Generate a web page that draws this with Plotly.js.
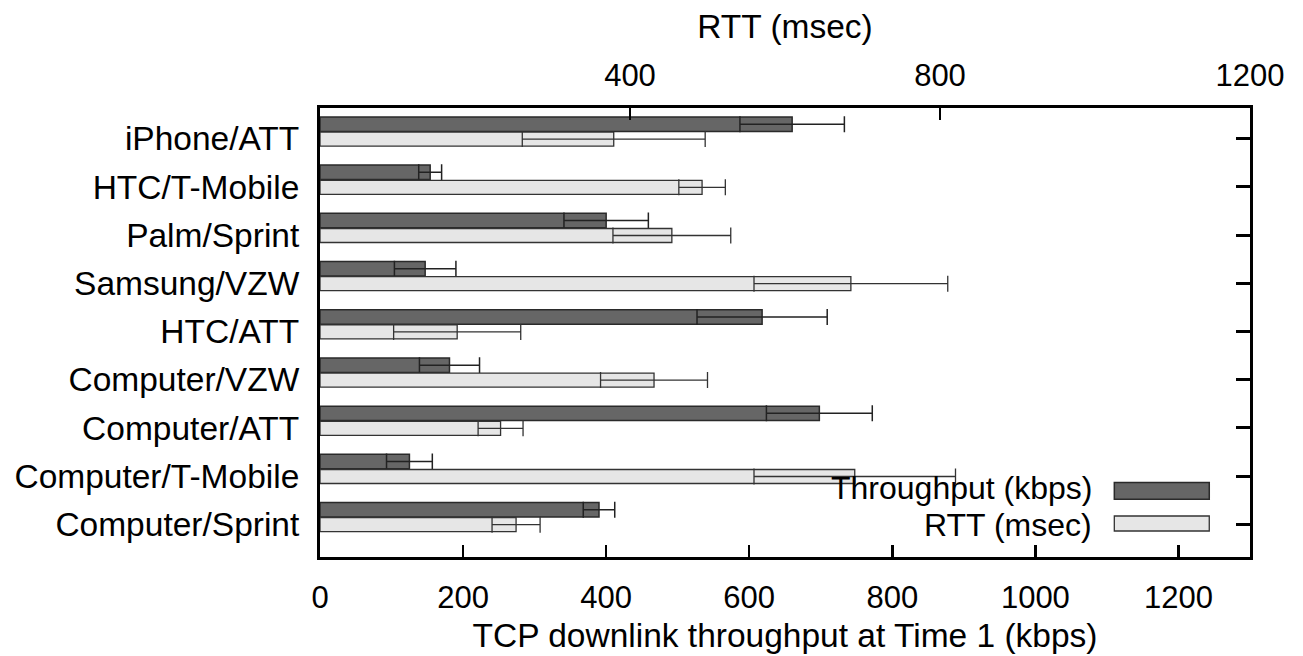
<!DOCTYPE html>
<html><head><meta charset="utf-8">
<script src="https://cdn.plot.ly/plotly-3.0.1.min.js"></script>
<style>html,body{margin:0;padding:0;background:#fff}</style>
</head><body><div id="chart" style="width:1303px;height:656px"></div>
<script>
const categories = ["iPhone/ATT","HTC/T-Mobile","Palm/Sprint","Samsung/VZW","HTC/ATT","Computer/VZW","Computer/ATT","Computer/T-Mobile","Computer/Sprint"];
const throughputKbps = [660,154,400,147,618,181,698,125,390];
const throughputErr  = [73,16,59,43,91,42,74,32,22];
const rttMsec        = [379,493,454,685,177,431,233,690,253];
const rttErr         = [118,30,76,125,82,69,29,130,31];
const bottomTicks = [0,200,400,600,800,1000,1200];
const topTicks = [400,800,1200];
const seriesNames = ["Throughput (kbps)","RTT (msec)"];

const FONT = "Liberation Sans, Arial, sans-serif";
const FS_TICK = 31;
const FS_CAT = 33.5;
const FS_TITLE = 33.5;
const FS_LEG = 32;

const traces = [
  {type:"bar", orientation:"h", name:seriesNames[0], x:throughputKbps, y:categories,
   xaxis:"x", yaxis:"y", offset:-0.45, width:0.3,
   marker:{color:"#666666", line:{color:"#2a2a2a", width:1.5}},
   error_x:{type:"data", array:throughputErr, visible:true, color:"#222222", thickness:1.5, width:8}},
  {type:"bar", orientation:"h", name:seriesNames[1], x:rttMsec, y:categories,
   xaxis:"x2", yaxis:"y2", offset:-0.135, width:0.29,
   marker:{color:"#e6e6e6", line:{color:"#333333", width:1.3}},
   error_x:{type:"data", array:rttErr, visible:true, color:"#333333", thickness:1.3, width:8}}
];

const layout = {
  width:1303, height:656,
  margin:{l:320, r:53, t:108, b:99, pad:0},
  paper_bgcolor:"#fff", plot_bgcolor:"#fff",
  font:{family:FONT, size:FS_TICK, color:"#000"},
  showlegend:false, barmode:"overlay",
  xaxis:{range:[0,1300], tickvals:bottomTicks, ticks:"inside", ticklen:12, tickwidth:2.5, tickcolor:"#000",
         showline:true, linewidth:3, linecolor:"#000", mirror:true, showgrid:false, zeroline:false,
         tickfont:{size:FS_TICK}, ticklabelstandoff:11,
         title:{text:"TCP downlink throughput at Time 1 (kbps)", font:{size:FS_TITLE}, standoff:10}},
  xaxis2:{overlaying:"x", side:"top", anchor:"y2", range:[0,1200], tickvals:topTicks, ticks:"inside", ticklen:12, tickwidth:2.5,
          tickcolor:"#000", showline:false, showgrid:false, zeroline:false, tickfont:{size:FS_TICK}, ticklabelstandoff:15,
          title:{text:"RTT (msec)", font:{size:FS_TITLE}, standoff:9}},
  yaxis:{type:"category", categoryorder:"array", categoryarray:categories, range:[8.68,-0.635],
         showline:true, linewidth:3, linecolor:"#000", mirror:true, ticks:"", showgrid:false, zeroline:false,
         tickfont:{size:FS_CAT}, ticklabelstandoff:11},
  yaxis2:{type:"category", categoryorder:"array", categoryarray:categories, range:[8.68,-0.635], overlaying:"y", side:"right",
          anchor:"x2", ticks:"inside", ticklen:14, tickwidth:3, tickcolor:"#000", showticklabels:false, showgrid:false, zeroline:false, showline:false},
  annotations:[
    {xref:"paper", yref:"paper", x:0.8313, y:0.1536, xanchor:"right", yanchor:"middle", text:seriesNames[0], showarrow:false, borderpad:0, font:{size:FS_LEG}},
    {xref:"paper", yref:"paper", x:0.8313, y:0.0706, xanchor:"right", yanchor:"middle", text:seriesNames[1], showarrow:false, borderpad:0, font:{size:FS_LEG}}
  ],
  shapes:[
    {type:"rect", xref:"paper", yref:"paper", x0:0.8541, x1:0.9562, y0:0.1285, y1:0.1657, fillcolor:"#666666", line:{color:"#2a2a2a", width:1.5}},
    {type:"rect", xref:"paper", yref:"paper", x0:0.8541, x1:0.9562, y0:0.0579, y1:0.0913, fillcolor:"#e6e6e6", line:{color:"#333333", width:1.3}}
  ]
};
Plotly.newPlot("chart", traces, layout, {displayModeBar:false, staticPlot:true});
</script></body></html>
